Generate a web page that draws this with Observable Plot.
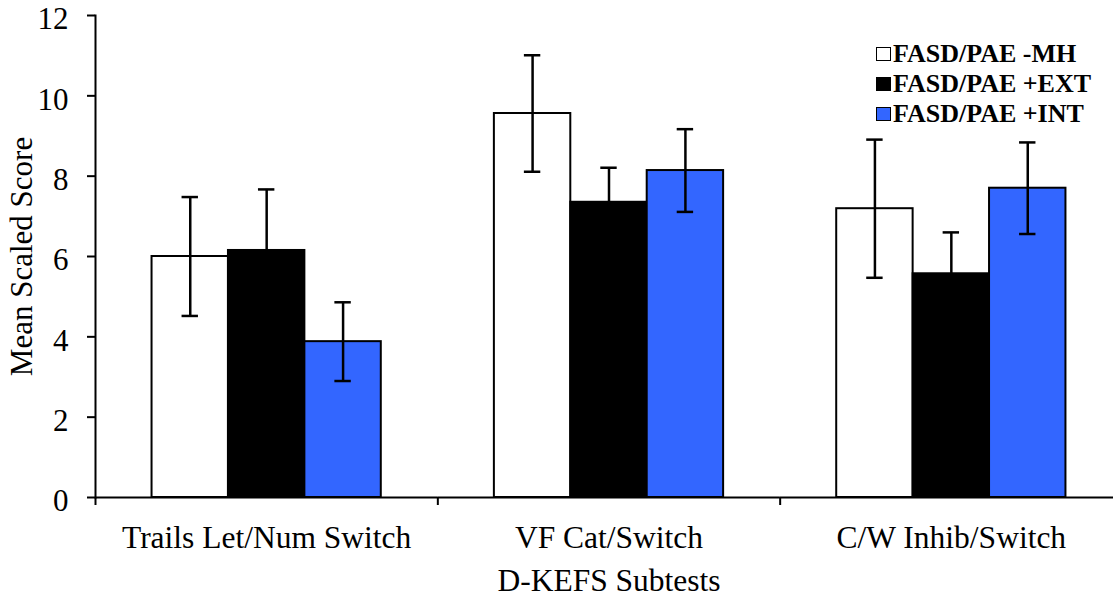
<!DOCTYPE html>
<html>
<head>
<meta charset="utf-8">
<script src="https://cdn.jsdelivr.net/npm/d3@7"></script>
<script src="https://cdn.jsdelivr.net/npm/@observablehq/plot@0.6"></script>
<style>
  html, body { margin: 0; padding: 0; background: #fff; overflow: hidden; }
  #wrap { position: relative; width: 1113px; height: 597px; font-family: "Liberation Serif", "Times New Roman", serif; }
  #legend { position: absolute; left: 876px; top: 39px; font-weight: bold; font-size: 26px; line-height: 30px; color: #000; }
  #legend .row { display: flex; align-items: center; white-space: nowrap; }
  #legend .sw { width: 13px; height: 12px; border: 1.5px solid #000; margin-right: 2px; box-sizing: content-box; }
</style>
</head>
<body>
<div id="wrap"><div id="legend"></div></div>
<script>
const groups = ["Trails Let/Num Switch", "VF Cat/Switch", "C/W Inhib/Switch"];
const series = ["FASD/PAE -MH", "FASD/PAE +EXT", "FASD/PAE +INT"];
const colors = ["#ffffff", "#000000", "#3366ff"];
const meanMH  = [6.0, 9.56, 7.19];
const meanEXT = [6.15, 7.35, 5.57];
const meanINT = [3.88, 8.14, 7.70];
const errMH  = [1.48, 1.45, 1.72];
const errEXT = [1.52, 0.86, 1.03];
const errINT = [0.98, 1.03, 1.14];
const yTicks = [0, 2, 4, 6, 8, 10, 12];

const means = [meanMH, meanEXT, meanINT];
const errs = [errMH, errEXT, errINT];
const data = groups.flatMap((g, i) => series.map((s, j) => ({group: g, series: s, mean: means[j][i], err: errs[j][i]})));

const W = 1113, ML = 95, MR = -9;
const facetW = (W - ML - MR) / groups.length;

const font = "Liberation Serif, Times New Roman, serif";
const chart = Plot.plot({
  width: W,
  height: 597,
  marginLeft: ML,
  marginRight: MR,
  marginTop: 15,
  marginBottom: 100,
  style: {fontFamily: font, fontSize: "28px", color: "#000", background: "transparent"},
  fx: {domain: groups, padding: 0, round: false},
  x: {domain: series, paddingInner: 0, paddingOuter: 0.74, round: false, axis: null},
  y: {domain: [0, 12]},
  color: {domain: series, range: colors},
  marks: [
    Plot.barY(data, {fx: "group", x: "series", y: "mean", fill: "series", stroke: "#000", strokeWidth: 2}),
    Plot.ruleX(data, {fx: "group", x: "series", y1: d => d.mean - d.err, y2: d => d.mean + d.err, stroke: "#000", strokeWidth: 2.5}),
    Plot.tickY(data, {fx: "group", x: "series", y: d => d.mean + d.err, insetLeft: 30, insetRight: 30, stroke: "#000", strokeWidth: 2.5}),
    Plot.tickY(data, {fx: "group", x: "series", y: d => d.mean - d.err, insetLeft: 30, insetRight: 30, stroke: "#000", strokeWidth: 2.5}),
    Plot.ruleY([0], {stroke: "#000", strokeWidth: 2}),
    Plot.frame({anchor: "left", facetAnchor: "left", stroke: "#000", strokeWidth: 2}),
    Plot.axisY({ticks: yTicks, tickSize: 8, tickPadding: 0, strokeWidth: 2, label: null, text: null}),
    Plot.axisY({ticks: yTicks, tickSize: 0, tickPadding: 27, fontSize: 31, dy: 4, label: null}),
    Plot.axisY({ticks: [], tickSize: 0, fontSize: 31, label: "Mean Scaled Score", labelAnchor: "center", labelArrow: "none", labelOffset: 86}),
    Plot.axisFx({anchor: "bottom", tickSize: 0, tickPadding: 28, fontSize: 31.5, label: "D-KEFS Subtests", labelAnchor: "center", labelArrow: "none", labelOffset: 93}),
    Plot.axisFx({anchor: "bottom", tickSize: 8, dx: -facetW / 2, tickFormat: () => "", label: null, strokeWidth: 2})
  ]
});
document.getElementById("wrap").prepend(chart);

const legend = document.getElementById("legend");
series.forEach((s, j) => {
  const row = document.createElement("div");
  row.className = "row";
  const sw = document.createElement("span");
  sw.className = "sw";
  sw.style.background = colors[j];
  const t = document.createElement("span");
  t.textContent = s;
  row.append(sw, t);
  legend.append(row);
});
</script>
</body>
</html>
